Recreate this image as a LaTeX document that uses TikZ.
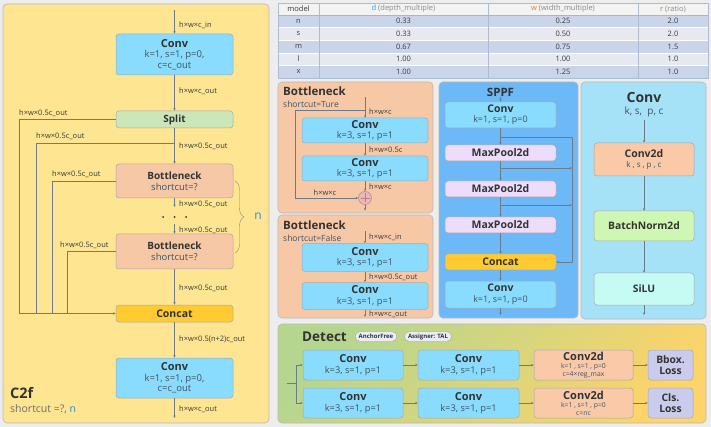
\documentclass[tikz,border=0pt]{standalone}
\usepackage{fontspec}
\setmainfont{Open Sans}
\usetikzlibrary{arrows.meta,decorations.pathreplacing,calc}
\definecolor{bgc}{HTML}{EDEDED}
\definecolor{c2fyellow}{HTML}{FDE591}
\definecolor{convblue}{HTML}{89DCFD}
\definecolor{splitgreen}{HTML}{CBE6B8}
\definecolor{bnorange}{HTML}{F7C8A6}
\definecolor{concatgold}{HTML}{FFCB30}
\definecolor{panelborder}{HTML}{B8B8B8}
\definecolor{boxborder}{HTML}{A8A8A8}
\definecolor{sppfblue}{HTML}{6DB9F7}
\definecolor{mpviolet}{HTML}{EDDDFB}
\definecolor{convpanel}{HTML}{A5E1F7}
\definecolor{c2dorange}{HTML}{F9C9A8}
\definecolor{bngreen}{HTML}{CDF7B3}
\definecolor{silucyan}{HTML}{C5FBF2}
\definecolor{losslav}{HTML}{C9CCEC}
\definecolor{detgreen}{HTML}{B5D68F}
\definecolor{detyellow}{HTML}{FCD46A}
\definecolor{linegray}{HTML}{6C7A89}
\definecolor{txt}{HTML}{333333}
\definecolor{subtxt}{HTML}{3F5366}
\definecolor{lbltxt}{HTML}{3A3A3A}
\definecolor{nblue}{HTML}{2E8FD8}
\definecolor{rowb}{HTML}{CBD5EA}
\definecolor{rowl}{HTML}{E6E9EF}
\definecolor{hdr}{HTML}{F3F3F3}
\definecolor{tline}{HTML}{AEBBD0}
\definecolor{dblue}{HTML}{3399DD}
\definecolor{worange}{HTML}{E07A2E}
\definecolor{rgreen}{HTML}{5BAA3A}
\definecolor{hgray}{HTML}{8A8A8A}
\definecolor{plusfill}{HTML}{E9B7BC}
\definecolor{plusline}{HTML}{B98088}
\definecolor{pillfill}{HTML}{E9EDF6}
\newcommand\myfs[2]{\fontsize{#1}{#2}\selectfont}
\newcommand\hd[2]{{\myfs{#1}{#1}\bfseries\color{txt}#2}}
\begin{document}
\begin{tikzpicture}[x=1pt,y=-1pt,
  box/.style={draw=boxborder, line width=0.5pt, rounded corners=3pt, inner sep=0pt, align=center, text=subtxt},
  panel/.style={draw=panelborder, line width=0.6pt, rounded corners=4pt, inner sep=0pt},
  lbl/.style={font=\myfs{7.5}{8}, text=lbltxt, inner sep=0pt, anchor=west},
  arr/.style={draw=linegray, line width=0.5pt, -{Stealth[length=2.6pt,width=2.4pt]}},
  ln/.style={draw=linegray, line width=0.5pt},
  conv/.style={box, fill=convblue},
  bneck/.style={box, fill=bnorange},
  cat/.style={box, fill=concatgold, text=txt, font=\myfs{10.5}{11}\bfseries},
  mpool/.style={box, fill=mpviolet, text=txt, font=\myfs{10.5}{11}\bfseries},
  cell/.style={inner sep=0pt, font=\myfs{7.5}{8}, text=lbltxt},
  pill/.style={draw=boxborder, fill=pillfill, rounded corners=4.5pt, line width=0.4pt, minimum height=9.5, inner xsep=3.5pt, inner ysep=0pt, font=\myfs{6}{6}\bfseries, text=txt},
  ttl/.style={inner sep=0pt, text=txt, font=\myfs{11.5}{12}\bfseries},
]
\useasboundingbox (0,0) rectangle (711,427);
\fill[bgc] (0,0) rectangle (711,427);

% ================= C2f =================
\node[panel, fill=c2fyellow, minimum width=266, minimum height=419] (c2fpanel) at (136,213.5) {};
\node[conv, minimum width=117, minimum height=41, font=\myfs{9.5}{10.5}] (cv1) at (174.5,54.5)
  {\hd{11}{Conv}\\k=1, s=1, p=0,\\c=c\_out};
\node[box, fill=splitgreen, minimum width=117, minimum height=17, text=txt, font=\myfs{10}{11}\bfseries] (split) at (174.5,119.5)
  {Split};
\node[bneck, minimum width=117, minimum height=34, font=\myfs{9.5}{11}] (bn1) at (174.5,181)
  {\hd{10}{Bottleneck}\\shortcut=?};
\node[bneck, minimum width=117, minimum height=35, font=\myfs{9.5}{11}] (bn2) at (174.5,251.5)
  {\hd{10}{Bottleneck}\\shortcut=?};
\node[cat, minimum width=117, minimum height=17] (cat1) at (174.5,313.5) {Concat};
\node[conv, minimum width=117, minimum height=40, font=\myfs{9.5}{10.5}] (cv2) at (174.5,378)
  {\hd{11}{Conv}\\k=1, s=1, p=0,\\c=c\_out};

\coordinate (cin) at (174.5,10);
\coordinate (cout) at (174.5,418);
\draw[arr] (cin) -- (cv1.north);
\node[lbl] (l1) at (179,25) {h×w×c\_in};
\draw[arr] (cv1.south) -- (split.north);
\node[lbl] (l2) at (179,91) {h×w×c\_out};
\draw[arr] (split.south) -- (bn1.north);
\node[lbl] (l3) at (179,146) {h×w×0.5c\_out};
\coordinate (b1end) at (174.5,207);
\draw[arr] (bn1.south) -- (b1end);
\node[lbl] (l4) at (179,204) {h×w×0.5c\_out};
\fill[txt] (163,217) circle (1pt) (174.5,217) circle (1pt) (186,217) circle (1pt);
\coordinate (b2start) at (174.5,224);
\draw[arr] (b2start) -- (bn2.north);
\node[lbl] (l5) at (179,230) {h×w×0.5c\_out};
\draw[arr] (bn2.south) -- (cat1.north);
\node[lbl] (l6) at (179,288) {h×w×0.5c\_out};
\draw[arr] (cat1.south) -- (cv2.north);
\node[lbl] (l7) at (179,339) {h×w×0.5(n+2)c\_out};
\draw[arr] (cv2.south) -- (cout);
\node[lbl] (l8) at (179,409) {h×w×c\_out};

% side branches
\draw[ln] (split.west) -- (19,119.5) -- (19,313.5);
\node[lbl] (lb1) at (19,113) {h×w×0.5c\_out};
\draw[ln] (174.5,143) -- (36,143) -- (36,313.5);
\node[lbl] (lb2) at (36,136) {h×w×0.5c\_out};
\draw[ln] (bn1.west) -- (52,181) -- (52,313.5);
\node[lbl] (lb3) at (52,174) {h×w×0.5c\_out};
\draw[ln] (bn2.west) -- (67,251.5) -- (67,313.5);
\node[lbl] (lb4) at (60,245) {h×w×0.5c\_out};
\draw[arr] (19,313.5) -- (cat1.west);

% brace
\draw[draw=hgray, line width=0.4pt, decorate, decoration={brace, amplitude=9pt}] (235,181) -- (235,253);
\node[inner sep=0pt, text=nblue, font=\myfs{12}{12}] (nlab) at (258,216) {n};

\node[inner sep=0pt, anchor=west, text=txt, font=\myfs{14.5}{15}\bfseries] (c2ft) at (10,393) {C2f};
\node[inner sep=0pt, anchor=west, text=hgray!80!black, font=\myfs{10.5}{11}] (c2fs) at (10,409) {shortcut =?, {\color{nblue}n}};

% ================= Table =================
\fill[hdr] (278,3) rectangle (708,15);
\foreach \r/\d/\w/\q/\c [count=\i] in {n/0.33/0.25/2.0/rowb, s/0.33/0.50/2.0/rowl, m/0.67/0.75/1.5/rowb, l/1.00/1.00/1.0/rowl, x/1.00/1.25/1.0/rowb} {
  \pgfmathsetmacro\ya{15+(\i-1)*12.6}
  \pgfmathsetmacro\yb{15+\i*12.6}
  \pgfmathsetmacro\yc{15+(\i-0.5)*12.6}
  \fill[\c] (278,\ya) rectangle (708,\yb);
  \draw[white, line width=0.4pt] (278,\ya) -- (708,\ya);
  \node[cell] (tm\i) at (298.5,\yc) {\r};
  \node[cell] (td\i) at (403.5,\yc) {\d};
  \node[cell] (tw\i) at (563,\yc) {\w};
  \node[cell] (tr\i) at (673,\yc) {\q};
}
\draw[tline, line width=0.4pt] (319,3) -- (319,78) (488,3) -- (488,78) (638,3) -- (638,78);
\draw[draw=dblue!60, line width=0.6pt] (278,15) -- (708,15);
\draw[tline, line width=0.5pt] (278,3) rectangle (708,78);
\node[cell] (th1) at (298.5,9) {model};
\node[cell, text=hgray] (th2) at (403.5,9) {{\color{dblue}d} (depth\_multiple)};
\node[cell, text=hgray] (th3) at (563,9) {{\color{worange}w} (width\_multiple)};
\node[cell, text=hgray] (th4) at (673,9) {{\color{rgreen}r} (ratio)};

% ================= Bottleneck True =================
\node[panel, fill=bnorange, minimum width=155, minimum height=131] (bpa) at (355.5,147.5) {};
\node[ttl, anchor=west] (bpat) at (283,91) {Bottleneck};
\node[inner sep=0pt, anchor=west, text=subtxt, font=\myfs{8.5}{9}] (bpas) at (283,104) {shortcut=Ture};
\node[conv, minimum width=126, minimum height=25, font=\myfs{9.3}{10.5}] (ca1) at (365,130.5)
  {\hd{11}{Conv}\\k=3, s=1, p=1};
\node[conv, minimum width=126, minimum height=25, font=\myfs{9.3}{10.5}] (ca2) at (365,168.5)
  {\hd{11}{Conv}\\k=3, s=1, p=1};
\node[circle, draw=plusline, fill=plusfill, line width=0.5pt, minimum size=13, inner sep=0pt] (plus) at (365,198) {};
\draw[plusline, line width=0.5pt] ($(plus.center)+(-4.5,0)$) -- ($(plus.center)+(4.5,0)$) ($(plus.center)+(0,-4.5)$) -- ($(plus.center)+(0,4.5)$);
\coordinate (ain) at (365,97);
\coordinate (aout) at (365,210.5);
\draw[arr] (ain) -- (ca1.north);
\node[lbl] (la1) at (369,112) {h×w×c};
\draw[arr] (ca1.south) -- (ca2.north);
\node[lbl] (la2) at (369,150) {h×w×0.5c};
\draw[arr] (ca2.south) -- (plus.north);
\node[lbl] (la3) at (369,187) {h×w×c};
\draw[arr] (plus.south) -- (aout);
\draw[arr] (365,110) -- (295,110) -- (295,198) -- (plus.west);
\node[lbl, anchor=center] (la4) at (325,193) {h×w×c};

% ================= Bottleneck False =================
\node[panel, fill=bnorange, minimum width=155, minimum height=103] (bpb) at (355.5,266.5) {};
\node[ttl, anchor=west] (bpbt) at (283,225) {Bottleneck};
\node[inner sep=0pt, anchor=west, text=subtxt, font=\myfs{8.5}{9}] (bpbs) at (283,238) {shortcut=False};
\node[conv, minimum width=126, minimum height=28, font=\myfs{9.3}{10.5}] (cb1) at (365,257.5)
  {\hd{11}{Conv}\\k=3, s=1, p=1};
\node[conv, minimum width=126, minimum height=27, font=\myfs{9.3}{10.5}] (cb2) at (365,296)
  {\hd{11}{Conv}\\k=3, s=1, p=1};
\coordinate (bin) at (365,231);
\coordinate (bout) at (365,317);
\draw[arr] (bin) -- (cb1.north);
\node[lbl] (lbb1) at (369,237) {h×w×c\_in};
\draw[arr] (cb1.south) -- (cb2.north);
\node[lbl] (lbb2) at (369,277) {h×w×0.5c\_out};
\draw[arr] (cb2.south) -- (bout);
\node[lbl] (lbb3) at (369,314) {h×w×c\_out};

% ================= SPPF =================
\node[panel, fill=sppfblue, minimum width=139, minimum height=236] (sppf) at (508.5,200) {};
\node[ttl] (sppft) at (500.5,92) {SPPF};
\node[conv, minimum width=111, minimum height=26, font=\myfs{9}{10.5}] (sc1) at (500.5,115)
  {\hd{10.5}{Conv}\\k=1, s=1, p=0};
\node[mpool, minimum width=111, minimum height=16] (mp1) at (500.5,153) {MaxPool2d};
\node[mpool, minimum width=111, minimum height=16] (mp2) at (500.5,189) {MaxPool2d};
\node[mpool, minimum width=111, minimum height=16] (mp3) at (500.5,225) {MaxPool2d};
\node[cat, minimum width=111, minimum height=16] (scat) at (500.5,262) {Concat};
\node[conv, minimum width=111, minimum height=27, font=\myfs{9}{10.5}] (sc2) at (500.5,294.5)
  {\hd{10.5}{Conv}\\k=1, s=1, p=0};
\coordinate (sin) at (500.5,97.5);
\coordinate (sout) at (500.5,315);
\draw[arr] (sin) -- (sc1.north);
\draw[arr] (sc1.south) -- (mp1.north);
\draw[arr] (mp1.south) -- (mp2.north);
\draw[arr] (mp2.south) -- (mp3.north);
\draw[arr] (mp3.south) -- (scat.north);
\draw[arr] (scat.south) -- (sc2.north);
\draw[arr] (sc2.south) -- (sout);
\draw[arr] (500.5,137) -- (572,137) -- (572,262) -- (scat.east);
\draw[arr] (500.5,168) -- (572,168);
\draw[arr] (500.5,205) -- (572,205);

% ================= Conv block =================
\node[panel, fill=convpanel, minimum width=125, minimum height=237] (cpanel) at (643.5,200.5) {};
\node[inner sep=0pt, text=txt, font=\myfs{14}{15}\bfseries] (cpt) at (644,98) {Conv};
\node[inner sep=0pt, text=subtxt, font=\myfs{10}{11}] (cps) at (644,112) {k, s,\ \ p, c};
\node[box, fill=c2dorange, minimum width=100, minimum height=33, font=\myfs{8}{10.5}] (c2d) at (644,159.5)
  {\hd{10.5}{Conv2d}\\k , s , p , c};
\node[box, fill=bngreen, minimum width=100, minimum height=30, text=txt, font=\myfs{10.3}{11}\bfseries] (bnorm) at (644,226)
  {BatchNorm2d};
\node[box, fill=silucyan, minimum width=100, minimum height=32, text=txt, font=\myfs{10.3}{11}\bfseries] (silu) at (644,289)
  {SiLU};
\coordinate (cpin) at (644,120);
\coordinate (cpout) at (644,315);
\draw[arr] (cpin) -- (c2d.north);
\draw[arr] (c2d.south) -- (bnorm.north);
\draw[arr] (bnorm.south) -- (silu.north);
\draw[arr] (silu.south) -- (cpout);

% ================= Detect =================
\node[panel, top color=detgreen, bottom color=detyellow, shading angle=45, minimum width=428, minimum height=99] (det) at (492,373.5) {};
\node[inner sep=0pt, anchor=west, text=txt, font=\myfs{13.5}{14}\bfseries] (dett) at (302,337) {Detect};
\node[pill] (af) at (376,336.5) {AnchorFree};
\node[pill] (asg) at (428,336.5) {Assigner: TAL};
\foreach \yy/\rr/\cc/\la/\lb in {365/a/{c=4×reg\_max}/Bbox./Loss, 403/b/{c=nc}/Cls./Loss} {
  \node[conv, minimum width=100, minimum height=30, font=\myfs{9.3}{11}] (d\rr1) at (353,\yy)
    {\hd{11}{Conv}\\k=3, s=1, p=1};
  \node[conv, minimum width=101, minimum height=30, font=\myfs{9.3}{11}] (d\rr2) at (468.5,\yy)
    {\hd{11}{Conv}\\k=3, s=1, p=1};
  \node[box, fill=c2dorange, minimum width=99, minimum height=30, font=\myfs{6.8}{8}] (d\rr3) at (583.5,\yy)
    {\hd{11}{Conv2d}\\k=1 , s=1 , p=0\\\cc};
  \node[box, fill=losslav, minimum width=45, minimum height=30, text=txt, font=\myfs{10.3}{11}\bfseries] (d\rr4) at (670.5,\yy)
    {\la\\\lb};
  \draw[arr] (d\rr1.east) -- (d\rr2.west);
  \draw[arr] (d\rr2.east) -- (d\rr3.west);
  \draw[arr] (d\rr3.east) -- (d\rr4.west);
}
\coordinate (din) at (287,383);
\draw[ln] (din) -- (296,383);
\draw[arr] (296,383) -- (296,365) -- (da1.west);
\draw[arr] (296,383) -- (296,403) -- (db1.west);
\end{tikzpicture}
\end{document}
